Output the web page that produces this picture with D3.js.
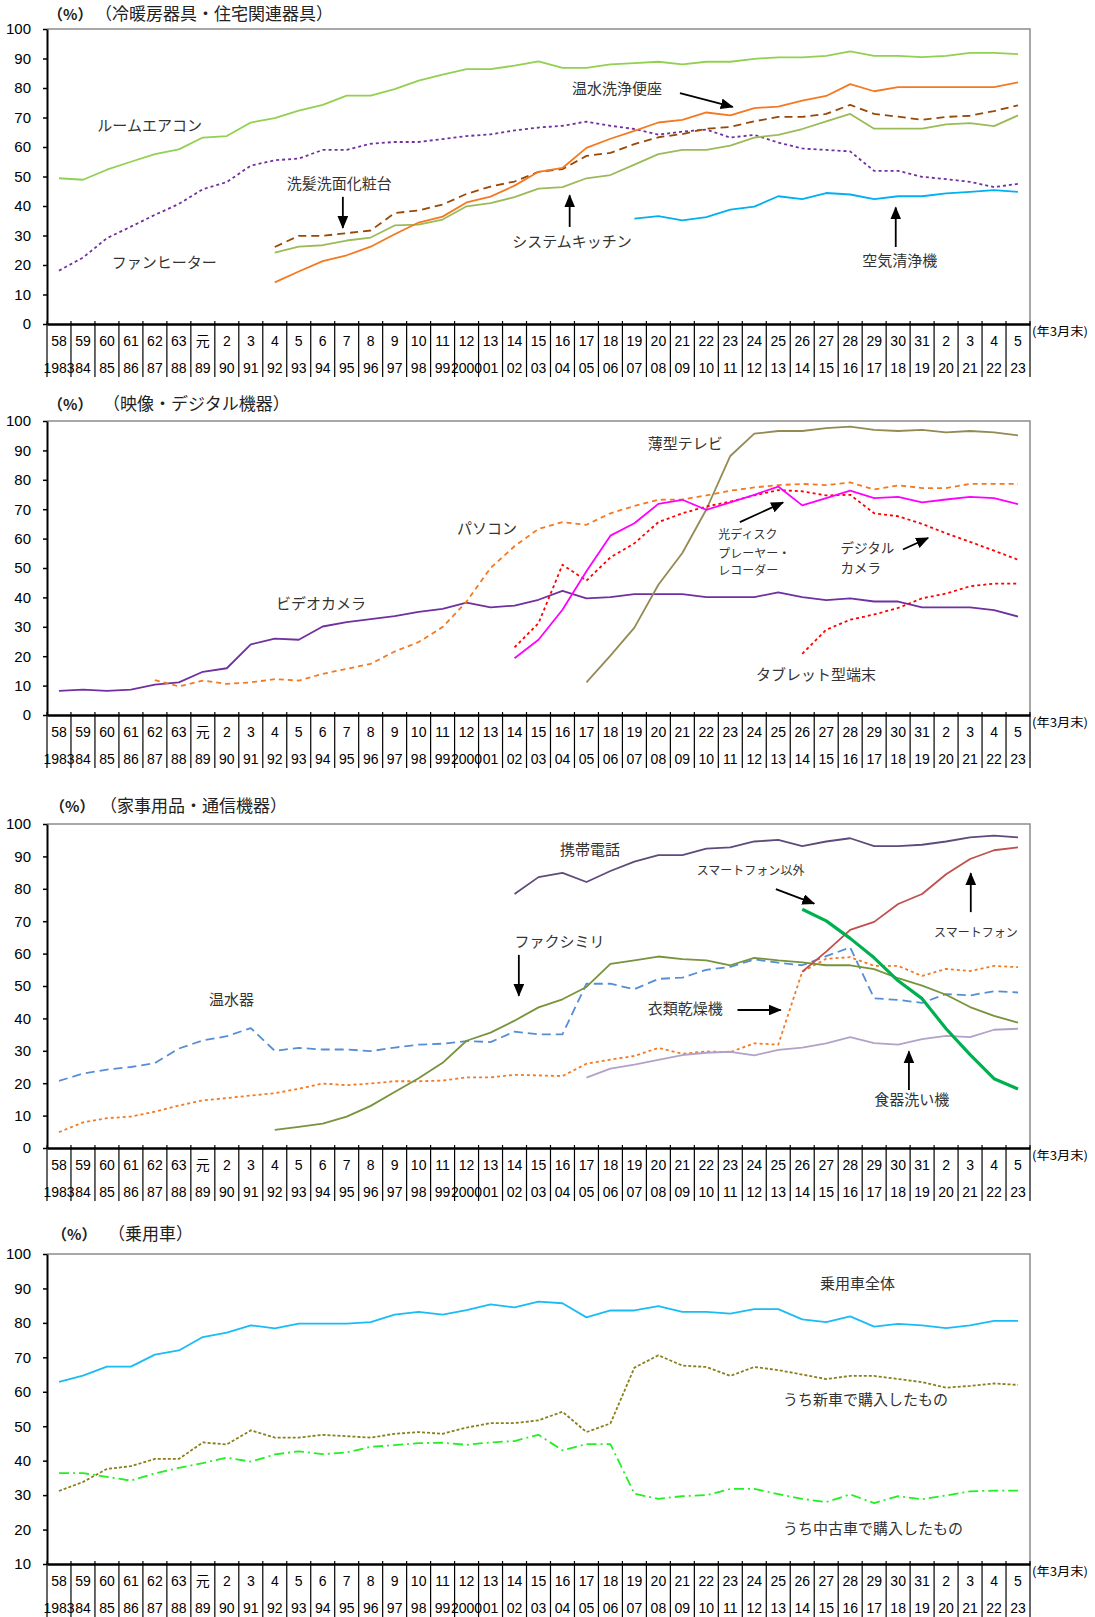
<!DOCTYPE html>
<html>
<head>
<meta charset="utf-8">
<script src="https://cdn.jsdelivr.net/npm/d3@7"></script>
<style>
  body { margin: 0; background: #fff; }
  svg text { font-family: "Noto Sans CJK JP", sans-serif; }
  .num text, text.num { font-family: "Liberation Sans Narrow", "Liberation Sans", Arial, sans-serif; }
</style>
</head>
<body>
<svg id="chart" width="1095" height="1617"></svg>
<script>
// category labels (fiscal year end March): Japanese era / western year
const eraLabels = ["58","59","60","61","62","63","元","2","3","4","5","6","7","8","9","10","11","12","13","14",
  "15","16","17","18","19","20","21","22","23","24","25","26","27","28","29","30","31","2","3","4","5"];
const yearLabels = ["1983","84","85","86","87","88","89","90","91","92","93","94","95","96","97","98","99","2000","01","02",
  "03","04","05","06","07","08","09","10","11","12","13","14","15","16","17","18","19","20","21","22","23"];
const firstYear = 1983;

// --- 冷暖房器具・住宅関連器具 ---
const roomAircon = [49.4, 48.9, 52.3, 55.0, 57.6, 59.2, 63.2, 63.7, 68.3, 69.8,
  72.3, 74.3, 77.4, 77.4, 79.6, 82.5, 84.5, 86.4, 86.4, 87.6,
  89.0, 86.8, 86.8, 88.0, 88.4, 88.9, 88.0, 88.9, 88.9, 89.9,
  90.4, 90.4, 90.9, 92.4, 90.9, 90.9, 90.5, 90.9, 91.9, 91.9, 91.5];
const fanHeater = [18.1, 22.5, 29.1, 33.0, 37.0, 40.7, 45.7, 48.1, 53.7, 55.5,
  56.1, 59.0, 59.0, 61.1, 61.7, 61.7, 62.7, 63.7, 64.3, 65.6,
  66.6, 67.2, 68.6, 67.2, 66.1, 64.2, 65.2, 65.9, 63.2, 64.1,
  61.5, 59.5, 59.0, 58.5, 51.9, 51.9, 49.9, 49.1, 48.2, 46.4, 47.5];
const washletStart = 1992;
const washlet = [14.1, 17.8, 21.3, 23.3, 26.2, 30.4, 34.4, 36.4, 41.2, 43.2, 46.9, 51.6,
  52.9, 59.7, 62.8, 65.5, 68.3, 69.2, 71.7, 70.7, 73.2, 73.7, 75.7, 77.3, 81.3, 78.9, 80.3, 80.3, 80.3, 80.3, 80.3, 81.9];
const vanityStart = 1992;
const vanity = [26.1, 29.9, 29.9, 30.8, 31.7, 37.6, 38.5, 40.5, 44.1, 46.6, 48.3, 51.6,
  52.5, 57.0, 58.0, 61.0, 63.3, 64.4, 66.2, 66.8, 68.7, 70.2, 70.2, 71.2, 74.3, 71.2, 70.3, 69.2, 70.2, 70.6, 72.2, 74.1];
const kitchenStart = 1992;
const kitchen = [24.2, 26.2, 26.7, 28.3, 29.3, 33.4, 33.7, 35.4, 39.9, 41.0, 43.0, 45.9,
  46.4, 49.4, 50.5, 54.0, 57.6, 59.0, 59.0, 60.5, 63.2, 64.1, 66.1, 68.7, 71.2, 66.2, 66.2, 66.2, 67.7, 68.1, 67.1, 70.7];
const purifierStart = 2007;
const purifier = [35.7, 36.6, 35.1, 36.2, 38.8, 39.8, 43.3, 42.3, 44.4, 43.9, 42.3, 43.3, 43.3, 44.3, 44.8, 45.4, 44.8];

// --- 映像・デジタル機器 ---
const videoCamera = [8.2, 8.6, 8.2, 8.6, 10.3, 11.1, 14.7, 15.9, 24.0, 26.0,
  25.6, 30.1, 31.6, 32.6, 33.6, 35.1, 36.1, 38.2, 36.6, 37.2,
  39.2, 42.2, 39.7, 40.1, 41.1, 41.1, 41.1, 40.1, 40.1, 40.1,
  41.7, 40.1, 39.1, 39.7, 38.6, 38.6, 36.6, 36.6, 36.6, 35.7, 33.5];
const pcStart = 1987;
const pc = [11.9, 9.7, 11.7, 10.6, 11.1, 12.2, 11.7, 14.0, 15.7, 17.4, 21.6, 24.8, 29.9, 38.6, 50.0, 57.4, 63.3,
  65.6, 64.7, 68.6, 71.1, 73.2, 73.3, 74.7, 76.3, 77.4, 78.2, 78.6, 78.2, 79.1, 76.7, 78.1, 77.2, 77.2, 78.6, 78.6, 78.6];
const discStart = 2002;
const disc = [19.3, 25.6, 35.8, 48.9, 61.0, 65.2, 71.8, 73.2, 69.8, 72.3, 74.9, 77.7, 71.3, 73.8, 76.3, 73.8, 74.2, 72.3, 73.3, 74.2, 73.8, 71.7];
const digiCamStart = 2002;
const digiCam = [23.0, 31.2, 51.1, 45.7, 53.6, 58.4, 65.6, 68.6, 70.9, 72.6, 74.7, 76.5, 76.1, 74.7, 74.9, 68.6, 67.6, 65.0, 61.8, 58.9, 55.9, 52.8];
const flatTvStart = 2005;
const flatTv = [11.1, 20.2, 29.7, 44.3, 55.1, 69.9, 88.1, 95.7, 96.6, 96.6, 97.6, 98.1, 97.0, 96.6, 97.0, 96.1, 96.6, 96.1, 95.1];
const tabletStart = 2014;
const tablet = [20.8, 29.0, 32.4, 34.2, 36.4, 39.7, 41.3, 43.8, 44.7, 44.7];

// --- 家事用品・通信機器 ---
const waterHeater = [20.7, 23.0, 24.2, 25.0, 26.2, 30.7, 33.2, 34.5, 37.0, 30.0,
  30.9, 30.4, 30.4, 29.9, 31.0, 31.9, 32.2, 33.0, 32.7, 35.9,
  35.1, 35.1, 50.7, 50.7, 49.0, 52.2, 52.6, 55.0, 55.9, 58.2,
  57.2, 56.4, 59.2, 61.9, 46.2, 45.7, 44.8, 47.5, 47.1, 48.4, 48.0];
const dryer = [4.9, 7.9, 9.2, 9.7, 11.2, 13.1, 14.7, 15.4, 16.2, 16.9,
  18.3, 19.9, 19.4, 19.9, 20.6, 20.6, 20.8, 21.8, 21.8, 22.6,
  22.4, 22.2, 26.0, 27.3, 28.4, 30.9, 29.1, 29.8, 29.6, 32.3,
  31.9, 54.4, 58.4, 58.9, 56.2, 56.2, 53.1, 55.3, 54.6, 56.2, 55.8];
const faxStart = 1992;
const fax = [5.6, 6.5, 7.5, 9.7, 13.0, 17.3, 21.5, 26.3, 33.1, 35.6, 39.3, 43.4,
  45.9, 49.7, 56.8, 57.9, 59.1, 58.3, 57.9, 56.4, 58.7, 57.9, 57.3, 56.4, 56.4, 55.2, 52.4, 50.1, 47.3, 43.5, 40.8, 38.7];
const mobileStart = 2002;
const mobile = [78.4, 83.6, 84.9, 82.1, 85.5, 88.4, 90.4, 90.4, 92.4, 92.8, 94.6, 95.1, 93.2, 94.6, 95.6, 93.2, 93.2, 93.6, 94.6, 95.9, 96.4, 95.9];
const smartStart = 2014;
const smartphone = [54.4, 60.6, 67.3, 69.8, 75.3, 78.4, 84.5, 89.2, 91.9, 92.8];
const nonSmartphone = [73.7, 70.1, 64.7, 58.7, 51.6, 46.1, 36.8, 28.8, 21.4, 18.2];
const dishStart = 2005;
const dishwasher = [21.7, 24.5, 25.7, 27.2, 28.7, 29.4, 29.7, 28.6, 30.3, 31.0, 32.3, 34.2, 32.4, 31.9, 33.6, 34.6, 34.2, 36.5, 36.8];

// --- 乗用車 ---
const carTotal = [62.9, 64.7, 67.3, 67.3, 70.8, 72.0, 75.9, 77.2, 79.3, 78.4,
  79.8, 79.8, 79.8, 80.2, 82.4, 83.2, 82.4, 83.7, 85.4, 84.5,
  86.2, 85.7, 81.6, 83.6, 83.6, 84.9, 83.2, 83.2, 82.7, 84.0,
  84.0, 81.0, 80.2, 81.9, 78.9, 79.7, 79.3, 78.5, 79.3, 80.6, 80.6];
const carNew = [31.2, 33.8, 37.6, 38.4, 40.5, 40.5, 45.3, 44.7, 48.8, 46.7,
  46.7, 47.5, 47.1, 46.7, 47.8, 48.3, 47.8, 49.6, 50.9, 50.9,
  51.7, 54.2, 48.3, 50.8, 67.0, 70.6, 67.6, 67.2, 64.6, 67.2,
  66.3, 65.0, 63.7, 64.6, 64.6, 63.7, 62.8, 61.2, 61.7, 62.4, 62.0];
const carUsed = [36.4, 36.4, 35.3, 34.2, 36.3, 37.9, 39.3, 40.9, 39.7, 41.8,
  42.7, 41.9, 42.4, 44.0, 44.5, 45.1, 45.2, 44.6, 45.3, 45.7,
  47.5, 43.0, 44.8, 44.8, 30.4, 28.9, 29.7, 30.0, 31.8, 31.8,
  30.3, 28.9, 28.0, 30.2, 27.7, 29.7, 28.8, 29.9, 31.1, 31.3, 31.3];

function seq(start, values) {
  const s = start - firstYear;
  return values.map((v, k) => ({i: s + k, v: v}));
}

const left = 47, right = 1030;

const panels = [
  {
    title: "（冷暖房器具・住宅関連器具）", pctX: 48, titleX: 95, titleY: 20, top: 29, bottom: 324, yMin: 0,
    series: [
      {data: seq(firstYear, roomAircon), color: "#92D050"},
      {data: seq(firstYear, fanHeater), color: "#7030A0", dash: "3,3"},
      {data: seq(kitchenStart, kitchen), color: "#9BBB59"},
      {data: seq(vanityStart, vanity), color: "#984807", dash: "8,5"},
      {data: seq(washletStart, washlet), color: "#F47920"},
      {data: seq(purifierStart, purifier), color: "#00B0F0"}
    ],
    notes: [
      {t: "ルームエアコン", x: 1.6, y: 66.8},
      {t: "ファンヒーター", x: 2.2, y: 20.3},
      {t: "洗髪洗面化粧台", x: 9.5, y: 47.1},
      {t: "システムキッチン", x: 18.9, y: 27.5},
      {t: "温水洗浄便座", x: 21.4, y: 79.3},
      {t: "空気清浄機", x: 33.5, y: 21.0}
    ],
    arrows: [
      {x1: 11.84, y1: 43.1, x2: 11.84, y2: 32.6},
      {x1: 21.3, y1: 32.9, x2: 21.3, y2: 43.6},
      {x1: 25.9, y1: 78.3, x2: 28.1, y2: 73.6},
      {x1: 34.9, y1: 26.1, x2: 34.9, y2: 39.5}
    ]
  },
  {
    title: "（映像・デジタル機器）", pctX: 48, titleX: 103, titleY: 410, top: 421, bottom: 715, yMin: 0,
    series: [
      {data: seq(firstYear, videoCamera), color: "#7030A0"},
      {data: seq(pcStart, pc), color: "#F47920", dash: "5,4"},
      {data: seq(flatTvStart, flatTv), color: "#948A54"},
      {data: seq(digiCamStart, digiCam), color: "#FF0000", dash: "3,3"},
      {data: seq(discStart, disc), color: "#FF00FF"},
      {data: seq(tabletStart, tablet), color: "#FF0000", dash: "3,3"}
    ],
    notes: [
      {t: "パソコン", x: 16.6, y: 62.9},
      {t: "ビデオカメラ", x: 9.05, y: 37.4},
      {t: "薄型テレビ", x: 24.56, y: 91.8},
      {t: "光ディスク", x: 27.5, y: 60.9, size: 12},
      {t: "プレーヤー・", x: 27.5, y: 54.4, size: 12},
      {t: "レコーダー", x: 27.5, y: 48.6, size: 12},
      {t: "デジタル", x: 32.6, y: 56.3, size: 13.5},
      {t: "カメラ", x: 32.6, y: 49.6, size: 13.5},
      {t: "タブレット型端末", x: 29.07, y: 13.3}
    ],
    arrows: [
      {x1: 28.4, y1: 65.6, x2: 30.2, y2: 72.3},
      {x1: 35.2, y1: 56.3, x2: 36.25, y2: 60.2}
    ]
  },
  {
    title: "（家事用品・通信機器）", pctX: 50, titleX: 100, titleY: 812, top: 824, bottom: 1148, yMin: 0,
    series: [
      {data: seq(firstYear, waterHeater), color: "#558ED5", dash: "9,5"},
      {data: seq(firstYear, dryer), color: "#F47920", dash: "3,3"},
      {data: seq(faxStart, fax), color: "#77933C"},
      {data: seq(dishStart, dishwasher), color: "#B3A2C7"},
      {data: seq(mobileStart, mobile), color: "#604A7B"},
      {data: seq(smartStart, smartphone), color: "#C0504D"},
      {data: seq(smartStart, nonSmartphone), color: "#00B050", width: 3.2}
    ],
    notes: [
      {t: "携帯電話", x: 20.9, y: 91.7},
      {t: "スマートフォン以外", x: 26.6, y: 85.2, size: 12},
      {t: "スマートフォン", x: 36.5, y: 66.0, size: 12},
      {t: "ファクシミリ", x: 19.0, y: 63.3},
      {t: "温水器", x: 6.26, y: 45.4},
      {t: "衣類乾燥機", x: 24.56, y: 42.6},
      {t: "食器洗い機", x: 34.0, y: 14.5}
    ],
    arrows: [
      {x1: 29.9, y1: 79.9, x2: 31.5, y2: 75.4},
      {x1: 38.03, y1: 72.8, x2: 38.03, y2: 84.8},
      {x1: 19.18, y1: 59.6, x2: 19.18, y2: 47.0},
      {x1: 28.3, y1: 42.6, x2: 30.1, y2: 42.6},
      {x1: 35.45, y1: 17.9, x2: 35.45, y2: 29.8}
    ]
  },
  {
    title: "（乗用車）", pctX: 52, titleX: 108, titleY: 1240, top: 1254, bottom: 1564, yMin: 10,
    series: [
      {data: seq(firstYear, carTotal), color: "#1ABCF5"},
      {data: seq(firstYear, carNew), color: "#8A7F1A", dash: "3,2"},
      {data: seq(firstYear, carUsed), color: "#22F022", dash: "10,4,2,4"}
    ],
    notes: [
      {t: "乗用車全体", x: 31.74, y: 91.0},
      {t: "うち新車で購入したもの", x: 30.2, y: 57.3},
      {t: "うち中古車で購入したもの", x: 30.2, y: 19.9}
    ],
    arrows: []
  }
];

const svg = d3.select("#chart");
svg.append("defs").append("marker")
    .attr("id", "head")
    .attr("viewBox", "0 0 12 10")
    .attr("refX", 11).attr("refY", 5)
    .attr("markerWidth", 13).attr("markerHeight", 11)
    .attr("markerUnits", "userSpaceOnUse")
    .attr("orient", "auto")
  .append("path")
    .attr("d", "M0,0L12,5L0,10z")
    .attr("fill", "#000");

panels.forEach(drawPanel);

function drawPanel(p) {
  const g = svg.append("g");
  const idx = d3.range(eraLabels.length);
  const x = d3.scaleBand().domain(idx).range([left, right]);
  const xc = d3.scaleLinear().domain([-0.5, idx.length - 0.5]).range([left, right]);
  const y = d3.scaleLinear().domain([p.yMin, 100]).range([p.bottom, p.top]);

  // title
  g.append("text").attr("x", p.pctX).attr("y", p.titleY)
      .attr("font-size", 15).attr("font-weight", 700).attr("fill", "#222")
      .text("（%）");
  g.append("text").attr("x", p.titleX).attr("y", p.titleY)
      .attr("font-size", 17).attr("fill", "#222")
      .text(p.title);

  // frame top / right
  g.append("path")
      .attr("d", `M${left},${p.top}H${right}V${p.bottom}`)
      .attr("fill", "none").attr("stroke", "#8c8c8c").attr("stroke-width", 1.5);

  // y axis
  const yAxis = g.append("g").attr("class", "num")
      .attr("transform", `translate(${left},0)`)
      .call(d3.axisLeft(y).tickValues(d3.range(p.yMin, 101, 10)).tickSize(4).tickPadding(12).tickSizeOuter(0));
  yAxis.select(".domain").attr("stroke", "#000").attr("stroke-width", 2);
  yAxis.selectAll(".tick line").attr("stroke", "#000").attr("stroke-width", 1.5);
  yAxis.selectAll("text").attr("font-size", 15).attr("fill", "#000");

  // x axis: two label rows in a table-like band
  const row1 = g.append("g").attr("class", "num")
      .attr("transform", `translate(0,${p.bottom})`)
      .call(d3.axisBottom(x).tickSize(0).tickPadding(12).tickFormat(i => eraLabels[i]));
  row1.select(".domain").attr("stroke", "#000").attr("stroke-width", 2.5);
  row1.selectAll("text").attr("font-size", 14).attr("fill", "#000")
      .style("font-family", i => eraLabels[i] === "元" ? "'Noto Sans CJK JP'" : null);

  const row2 = g.append("g").attr("class", "num")
      .attr("transform", `translate(0,${p.bottom + 27})`)
      .call(d3.axisBottom(x).tickSize(0).tickPadding(12).tickFormat(i => yearLabels[i]));
  row2.select(".domain").remove();
  row2.selectAll("text").attr("font-size", 14).attr("fill", "#000");

  g.append("g").selectAll("line")
    .data(idx.concat([idx.length]))
    .join("line")
      .attr("x1", i => i < idx.length ? x(i) : right)
      .attr("x2", i => i < idx.length ? x(i) : right)
      .attr("y1", p.bottom - 3)
      .attr("y2", p.bottom + 53)
      .attr("stroke", "#000")
      .attr("stroke-width", 1.2);

  g.append("text")
      .attr("x", right + 2).attr("y", p.bottom + 9)
      .attr("dominant-baseline", "middle")
      .attr("font-size", 12).attr("fill", "#000")
      .attr("textLength", 56).attr("lengthAdjust", "spacingAndGlyphs")
      .text("(年3月末)");

  // series
  const line = d3.line().x(d => xc(d.i)).y(d => y(d.v));
  g.append("g").selectAll("path")
    .data(p.series)
    .join("path")
      .attr("d", s => line(s.data))
      .attr("fill", "none")
      .attr("stroke", s => s.color)
      .attr("stroke-width", s => s.width || 1.8)
      .attr("stroke-dasharray", s => s.dash || null)
      .attr("stroke-linejoin", "round");

  // annotations
  g.append("g").selectAll("text")
    .data(p.notes)
    .join("text")
      .attr("x", d => xc(d.x))
      .attr("y", d => y(d.y))
      .attr("dominant-baseline", "middle")
      .attr("font-size", d => d.size || 15)
      .attr("fill", "#333")
      .text(d => d.t);

  g.append("g").selectAll("line")
    .data(p.arrows)
    .join("line")
      .attr("x1", d => xc(d.x1)).attr("y1", d => y(d.y1))
      .attr("x2", d => xc(d.x2)).attr("y2", d => y(d.y2))
      .attr("stroke", "#000").attr("stroke-width", 1.8)
      .attr("marker-end", "url(#head)");
}
</script>
</body>
</html>
